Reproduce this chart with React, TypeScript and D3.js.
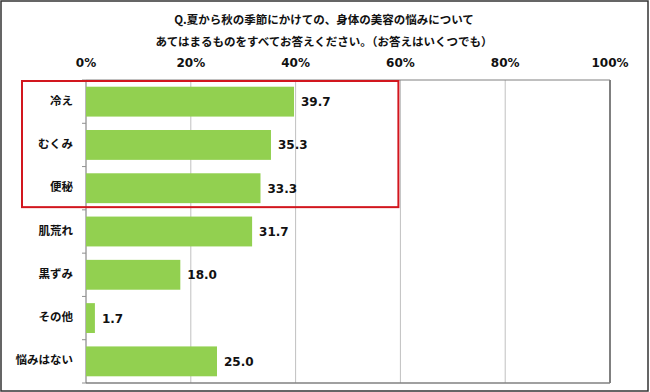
import React from 'react';
import * as d3 from 'd3';

const titleLines = [
  'Q.夏から秋の季節にかけての、身体の美容の悩みについて',
  'あてはまるものをすべてお答えください。（お答えはいくつでも）',
];
const categories = ['冷え', 'むくみ', '便秘', '肌荒れ', '黒ずみ', 'その他', '悩みはない'];
const values = [39.7, 35.3, 33.3, 31.7, 18.0, 1.7, 25.0];
const ticks = [0, 20, 40, 60, 80, 100];
const highlighted = ['冷え', 'むくみ', '便秘'];

const W = 650;
const H = 392;
const margin = { top: 80, right: 40, bottom: 9, left: 86 };

const jp = '"Noto Sans CJK JP", "Noto Sans", sans-serif';
const num = '"DejaVu Sans", Verdana, sans-serif';

export default function App() {
  const x = d3.scaleLinear().domain([0, 100]).range([margin.left, W - margin.right]);
  const y = d3
    .scaleBand<string>()
    .domain(categories)
    .range([margin.top, H - margin.bottom])
    .paddingInner(0.31)
    .paddingOuter(0.155);

  const step = y.step();
  const top = margin.top;
  const bottom = H - margin.bottom;
  const left = x(0);
  const right = x(100);
  const lastHi = highlighted[highlighted.length - 1];
  const boxBottom = (y(lastHi) as number) + y.bandwidth() + 4;

  return (
    <svg width={W} height={H} style={{ position: 'absolute', left: 0, top: 0 }}>
      <rect x={0} y={0} width={W} height={H} fill="#fff" />
      <rect x={1} y={1} width={W - 3} height={H - 2} fill="none" stroke="#333" strokeWidth={1.5} />

      {titleLines.map((t, i) => (
        <text
          key={i}
          x={324}
          y={21 + i * 22}
          textAnchor="middle"
          dominantBaseline="middle"
          fontFamily={jp}
          fontWeight="bold"
          fontSize={11.5}
          fill="#111"
        >
          {t}
        </text>
      ))}

      {ticks.map((t) => (
        <g key={t}>
          {t > 0 && t < 100 && (
            <line x1={x(t)} x2={x(t)} y1={top} y2={bottom} stroke="#c0c0c0" strokeWidth={1} />
          )}
          <text
            x={x(t)}
            y={63}
            textAnchor="middle"
            dominantBaseline="middle"
            fontFamily={num}
            fontWeight="bold"
            fontSize={12}
            fill="#111"
          >
            {t}%
          </text>
        </g>
      ))}

      <line x1={left} x2={right} y1={top} y2={top} stroke="#808080" strokeWidth={1} />
      <line x1={left} x2={right} y1={bottom} y2={bottom} stroke="#808080" strokeWidth={1.5} />
      <line x1={right} x2={right} y1={top} y2={bottom} stroke="#808080" strokeWidth={2} />
      <line x1={left} x2={left} y1={top} y2={bottom} stroke="#707070" strokeWidth={1} />

      {d3.range(categories.length + 1).map((i) => (
        <line
          key={i}
          x1={left - 4}
          x2={left}
          y1={top + i * step}
          y2={top + i * step}
          stroke="#909090"
          strokeWidth={1}
        />
      ))}

      {categories.map((c, i) => {
        const yc = (y(c) as number) + y.bandwidth() / 2;
        return (
          <g key={c}>
            <rect
              x={left}
              y={y(c)}
              width={x(values[i]) - left}
              height={y.bandwidth()}
              fill="#92d050"
            />
            <text
              x={73}
              y={yc}
              textAnchor="end"
              dominantBaseline="middle"
              fontFamily={jp}
              fontWeight="bold"
              fontSize={11.5}
              fill="#111"
            >
              {c}
            </text>
            <text
              x={x(values[i]) + 7}
              y={yc + 1}
              dominantBaseline="middle"
              fontFamily={num}
              fontWeight="bold"
              fontSize={12}
              fill="#111"
            >
              {values[i].toFixed(1)}
            </text>
          </g>
        );
      })}

      <rect
        x={22}
        y={top + 1}
        width={x(60) - 2 - 22}
        height={boxBottom - top - 1}
        fill="none"
        stroke="#d2161e"
        strokeWidth={2}
      />
    </svg>
  );
}
